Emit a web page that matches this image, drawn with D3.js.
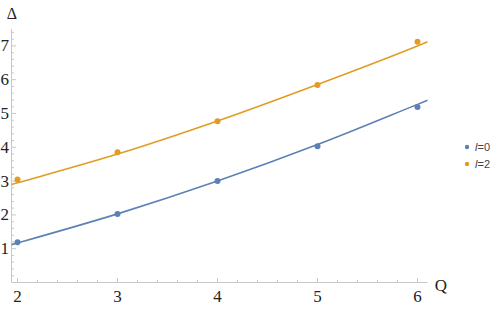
<!DOCTYPE html>
<html>
<head>
<meta charset="utf-8">
<script src="https://cdn.jsdelivr.net/npm/d3@7"></script>
<style>
  body { margin: 0; background: #fff; }
  .lbl { font-family: "Liberation Serif", "DejaVu Serif", "Times New Roman", serif; }
  .leg { font-family: "Liberation Sans", "DejaVu Sans", Arial, sans-serif; }
</style>
</head>
<body>
<div id="chart"></div>
<script>
// data points
const qValues = [2, 3, 4, 5, 6];
const deltaL0 = [1.19, 2.03, 3.0, 4.03, 5.19];
const deltaL2 = [3.05, 3.85, 4.77, 5.84, 7.12];

// fitted curves
const fitQ = [1.94, 2, 3, 4, 5, 6, 6.1];
const fitL0 = [1.12, 1.17, 2.03, 3.0, 4.08, 5.27, 5.39];
const fitL2 = [2.9, 2.95, 3.8, 4.78, 5.86, 7.0, 7.12];

const seriesNames = ["0", "2"];
const colors = ["#5E81B5", "#E19C24"];

const xMajor = [2, 3, 4, 5, 6];
const yMajor = [1, 2, 3, 4, 5, 6, 7];

const width = 498, height = 310;

const svg = d3.select("#chart").append("svg")
  .attr("width", width)
  .attr("height", height);

// scales: 100px per unit of Q, ~33.7px per unit of Delta
const x = d3.scaleLinear().domain([1.94, 6.1]).range([11.5, 427.5]);
const y = d3.scaleLinear().domain([0, 7.5]).range([282.5, 29]);

const axisColor = "#c8c8c8";

// x axis with minor ticks pointing inward
const xAxis = svg.append("g").attr("transform", `translate(0,${y(0)})`);
xAxis.append("line")
  .attr("x1", x.range()[0]).attr("x2", x.range()[1])
  .attr("stroke", axisColor);
const xMinor = d3.range(2, 6.11, 0.2).filter(v => Math.abs(v - Math.round(v)) > 1e-6);
xAxis.selectAll(".minor").data(xMinor).join("line")
  .attr("x1", d => x(d)).attr("x2", d => x(d))
  .attr("y1", 0).attr("y2", -2.5)
  .attr("stroke", axisColor);
xAxis.selectAll(".major").data(xMajor).join("line")
  .attr("x1", d => x(d)).attr("x2", d => x(d))
  .attr("y1", 0).attr("y2", -4.5)
  .attr("stroke", axisColor);
xAxis.selectAll("text").data(xMajor).join("text")
  .attr("class", "lbl")
  .attr("x", d => x(d))
  .attr("y", 19)
  .attr("text-anchor", "middle")
  .attr("font-size", 17)
  .attr("fill", "#222")
  .text(d => d);

// y axis
const yAxis = svg.append("g").attr("transform", `translate(${x.range()[0]},0)`);
yAxis.append("line")
  .attr("y1", y.range()[0]).attr("y2", y.range()[1])
  .attr("stroke", axisColor);
const yMinor = d3.range(0.2, 7.5, 0.2).filter(v => Math.abs(v - Math.round(v)) > 1e-6);
yAxis.selectAll(".minor").data(yMinor).join("line")
  .attr("y1", d => y(d)).attr("y2", d => y(d))
  .attr("x1", 0).attr("x2", 2.5)
  .attr("stroke", axisColor);
yAxis.selectAll(".major").data(yMajor).join("line")
  .attr("y1", d => y(d)).attr("y2", d => y(d))
  .attr("x1", 0).attr("x2", 4.5)
  .attr("stroke", axisColor);
yAxis.selectAll("text").data(yMajor).join("text")
  .attr("class", "lbl")
  .attr("x", -2.5)
  .attr("y", d => y(d) + 5.5)
  .attr("text-anchor", "end")
  .attr("font-size", 17)
  .attr("fill", "#222")
  .text(d => d);

// axis labels
svg.append("text")
  .attr("class", "lbl")
  .attr("x", 12).attr("y", 19)
  .attr("text-anchor", "middle")
  .attr("font-size", 16)
  .attr("fill", "#222")
  .text("Δ");
svg.append("text")
  .attr("class", "lbl")
  .attr("x", 441).attr("y", 291)
  .attr("text-anchor", "middle")
  .attr("font-size", 17)
  .attr("fill", "#222")
  .text("Q");

// curves
const line = d3.line()
  .x(d => x(d[0]))
  .y(d => y(d[1]))
  .curve(d3.curveMonotoneX);

[fitL0, fitL2].forEach((fit, i) => {
  svg.append("path")
    .datum(fitQ.map((q, j) => [q, fit[j]]))
    .attr("d", line)
    .attr("fill", "none")
    .attr("stroke", colors[i])
    .attr("stroke-width", 1.6);
});

// points
[deltaL0, deltaL2].forEach((vals, i) => {
  svg.append("g").selectAll("circle")
    .data(qValues.map((q, j) => [q, vals[j]]))
    .join("circle")
    .attr("cx", d => x(d[0]))
    .attr("cy", d => y(d[1]))
    .attr("r", 3)
    .attr("fill", colors[i]);
});

// legend
const legend = svg.append("g")
  .attr("transform", "translate(467,147)");
seriesNames.forEach((name, i) => {
  const g = legend.append("g").attr("transform", `translate(0,${i * 17})`);
  g.append("circle").attr("r", 2.2).attr("fill", colors[i]);
  const t = g.append("text")
    .attr("class", "leg")
    .attr("x", 8).attr("y", 4)
    .attr("font-size", 11)
    .attr("fill", "#444");
  t.append("tspan").attr("font-style", "italic").text("l");
  t.append("tspan").text("=" + name);
});
</script>
</body>
</html>
